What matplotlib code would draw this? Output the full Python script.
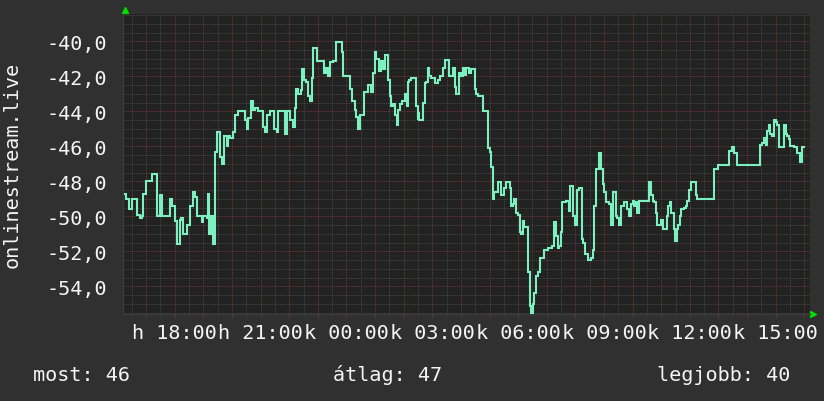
import matplotlib
matplotlib.use('Agg')
import matplotlib.pyplot as plt
import matplotlib.dates as mdates
from matplotlib.ticker import MultipleLocator, FuncFormatter
import pandas as pd

# minutes after Monday 16:00 and the reading at that moment
minutes = [
    16, 18, 25, 30, 39, 41, 47, 51, 54, 60, 70, 73, 79, 82, 88, 93, 103, 110, 115, 121,
    124, 130, 133, 138, 142, 145, 152, 159, 162, 167, 173, 177, 180, 187, 190, 192, 197, 201, 204, 209,
    213, 215, 219, 223, 229, 232, 236, 242, 246, 252, 265, 267, 271, 274, 280, 285, 288, 294, 295, 301,
    305, 309, 313, 320, 326, 328, 334, 337, 344, 351, 356, 361, 368, 372, 375, 379, 384, 387, 391, 396,
    400, 403, 407, 410, 412, 416, 418, 430, 432, 438, 441, 445, 452, 455, 458, 466, 470, 473, 483, 487,
    492, 497, 501, 504, 508, 513, 516, 522, 525, 529, 532, 536, 539, 543, 546, 548, 553, 557, 560, 564,
    567, 571, 574, 578, 581, 585, 588, 592, 597, 602, 606, 609, 612, 616, 623, 626, 629, 630, 633, 637,
    640, 644, 647, 651, 654, 658, 663, 666, 672, 677, 682, 686, 694, 696, 700, 703, 707, 710, 714, 717,
    721, 724, 728, 731, 735, 738, 742, 745, 749, 752, 755, 763, 766, 773, 776, 780, 783, 787, 790, 797,
    801, 804, 809, 811, 815, 818, 822, 825, 829, 832, 836, 839, 843, 846, 850, 853, 857, 860, 864, 867,
    871, 874, 878, 881, 885, 891, 895, 902, 909, 912, 916, 920, 923, 926, 930, 933, 940, 944, 947, 949,
    953, 956, 960, 963, 968, 972, 974, 977, 981, 986, 989, 993, 996, 1000, 1003, 1007, 1009, 1010, 1014, 1017,
    1021, 1024, 1031, 1035, 1038, 1041, 1045, 1048, 1052, 1055, 1059, 1062, 1066, 1069, 1073, 1076, 1080, 1083, 1087, 1090,
    1094, 1111, 1115, 1118, 1122, 1125, 1129, 1132, 1136, 1139, 1143, 1148, 1152, 1155, 1159, 1161, 1166, 1169, 1173, 1175,
    1180, 1182, 1187, 1192, 1195, 1198, 1202, 1209, 1212, 1216, 1247, 1251, 1258, 1259, 1279, 1282, 1286, 1289, 1293, 1296,
    1298, 1345, 1347, 1352, 1355, 1359, 1362, 1366, 1369, 1373, 1376, 1380, 1383, 1387, 1394, 1397, 1401, 1404, 1408, 1411,
    1418, 1425, 1429, 1432, 1436, 1439,
]
values = [
    -48.7, -49.0, -49.6, -49.0, -49.0, -49.9, -50.1, -50.0, -48.7, -48.0, -48.0, -47.6, -47.6, -50.0, -48.8, -50.0, -50.0, -49.0, -49.4, -50.25,
    -51.6, -50.2, -50.1, -51.0, -51.0, -50.5, -49.4, -48.6, -48.9, -50.0, -50.0, -50.3, -50.0, -50.1, -48.7, -51.0, -50.0, -51.6, -46.3, -45.2,
    -45.2, -46.6, -47.0, -45.4, -46.0, -45.4, -45.5, -45.2, -44.2, -44.0, -44.0, -44.5, -45.0, -44.4, -43.4, -43.9, -43.8, -43.8, -44.0, -44.0,
    -44.9, -45.2, -44.2, -44.0, -44.0, -45.0, -45.2, -44.0, -44.0, -45.3, -44.0, -44.5, -44.9, -43.8, -42.7, -43.0, -42.8, -41.6, -42.2, -42.3,
    -43.1, -43.4, -42.1, -40.4, -40.4, -40.4, -41.1, -41.1, -41.8, -41.5, -42.0, -41.2, -41.1, -41.1, -40.05, -40.05, -40.6, -42.0, -42.0, -42.7,
    -43.4, -43.9, -44.3, -45.0, -44.2, -44.2, -42.9, -42.9, -42.5, -42.5, -42.9, -41.8, -40.6, -41.0, -41.0, -41.7, -41.1, -41.6, -40.8, -40.8,
    -42.2, -43.1, -43.7, -43.6, -44.2, -44.8, -43.9, -43.6, -43.4, -43.0, -43.7, -42.3, -42.2, -42.1, -42.1, -43.7, -44.5, -44.1, -44.5, -44.5,
    -43.5, -42.4, -42.3, -41.5, -42.0, -42.1, -42.1, -42.4, -42.2, -42.0, -41.5, -41.07, -41.07, -42.0, -42.0, -41.5, -42.6, -43.0, -43.0, -41.8,
    -42.0, -41.5, -41.9, -41.5, -41.5, -41.8, -41.6, -41.6, -42.7, -43.0, -43.1, -43.1, -44.0, -44.0, -46.1, -46.3, -47.2, -49.0, -48.6, -48.06,
    -48.06, -48.8, -48.8, -48.4, -48.06, -48.06, -48.4, -49.4, -49.3, -49.0, -49.8, -49.9, -50.9, -51.0, -50.25, -50.6, -50.6, -53.2, -55.1, -55.5,
    -55.0, -54.4, -53.4, -53.2, -52.4, -52.4, -51.9, -51.8, -51.8, -51.7, -50.3, -51.1, -51.8, -51.7, -50.9, -49.2, -49.1, -49.1, -49.7, -48.25,
    -48.25, -50.0, -50.5, -48.5, -48.4, -48.4, -51.3, -51.5, -52.15, -52.5, -52.5, -52.4, -51.9, -49.4, -47.3, -47.3, -46.3, -46.4, -47.3, -48.15,
    -48.6, -49.2, -49.3, -50.5, -48.6, -48.6, -50.0, -50.1, -50.5, -49.4, -49.4, -49.2, -49.2, -49.6, -50.0, -49.3, -49.1, -49.4, -49.2, -49.8,
    -49.1, -49.1, -48.06, -48.8, -49.1, -49.2, -49.8, -50.5, -50.5, -50.2, -50.7, -50.7, -50.0, -49.4, -49.2, -49.8, -50.7, -51.4, -50.7, -50.5,
    -50.0, -49.6, -49.5, -49.4, -49.1, -48.5, -48.06, -48.06, -48.8, -49.0, -49.0, -47.3, -47.3, -47.07, -47.07, -46.25, -46.25, -46.06, -46.4, -46.4,
    -47.07, -47.07, -45.9, -45.8, -45.5, -45.9, -45.1, -44.8, -45.3, -45.4, -44.5, -44.6, -44.8, -46.06, -46.06, -44.8, -45.3, -45.4, -45.6, -45.98,
    -46.06, -46.4, -46.4, -46.9, -46.06, -46.06,
]

start_min, end_min = 12, 1452
day_letters = {0: 'h', 1: 'k'}   # hétfő, kedd
series_name = 'onlinestream.live'
most, atlag, legjobb = 46, 47, 40

base = pd.Timestamp('2024-01-01 16:00')
times = base + pd.to_timedelta(minutes, unit='min')

font = 'DejaVu Sans Mono'
fs = 14.5
fg = '#f4f4f4'

fig = plt.figure(figsize=(8.24, 4.02), dpi=100, facecolor='#303030')
ax = fig.add_axes([0.1496, 0.2164, 0.8334, 0.7463], facecolor='#222222')

ax.plot(times, values, color='#7cf0bf', linewidth=1.5, zorder=3,
        drawstyle='steps-post', solid_joinstyle='miter')

ax.set_xlim(base + pd.Timedelta(minutes=start_min), base + pd.Timedelta(minutes=end_min))
ax.set_ylim(-55.58, -38.44)

ax.yaxis.set_major_locator(MultipleLocator(2))
ax.yaxis.set_minor_locator(MultipleLocator(0.5))
ax.yaxis.set_major_formatter(FuncFormatter(lambda v, p: f'{v:.1f}'.replace('.', ',')))

def xlabel(x, pos):
    d = mdates.num2date(x)
    if d.hour % 3 or d.minute:
        return ''
    return f'{day_letters[d.weekday()]} {d:%H:%M}'

ax.xaxis.set_major_locator(mdates.HourLocator())
ax.xaxis.set_minor_locator(mdates.MinuteLocator(byminute=[0, 30]))
ax.xaxis.set_major_formatter(FuncFormatter(xlabel))

dots = (0, (1, 1))
ax.grid(which='minor', color='#464646', linestyle=dots, linewidth=0.75)
ax.grid(which='major', color='#6e3636', linestyle=dots, linewidth=0.75)
ax.set_axisbelow(True)

ax.tick_params(axis='y', which='both', length=0, pad=11.5, labelcolor=fg, labelsize=fs)
ax.tick_params(axis='x', which='major', length=2.5, color='#6e3636', pad=4, labelcolor=fg, labelsize=fs)
ax.tick_params(axis='x', which='minor', length=1.5, color='#464646')
for lab in ax.get_xticklabels() + ax.get_yticklabels():
    lab.set_fontfamily(font)

for side in ('top', 'right'):
    ax.spines[side].set_visible(False)
for side in ('left', 'bottom'):
    ax.spines[side].set_color('#3a3a3a')
    ax.spines[side].set_linewidth(1)

# rrdtool style arrows on the axes ends
ax.plot([0.0025], [1.013], marker='^', color='#00dd00', markersize=4.5,
        transform=ax.transAxes, clip_on=False, linestyle='none')
ax.plot([1.0044], [0.0], marker='>', color='#00dd00', markersize=4.5,
        transform=ax.transAxes, clip_on=False, linestyle='none')

fig.text(0.0146, 0.590, series_name, rotation=90, ha='center', va='center',
         color=fg, fontsize=fs, family=font)

fig.text(33 / 824, 0.067, f'most: {most}', ha='left', va='center', color=fg, fontsize=fs, family=font)
fig.text(333 / 824, 0.067, f'átlag: {atlag}', ha='left', va='center', color=fg, fontsize=fs, family=font)
fig.text(790 / 824, 0.067, f'legjobb: {legjobb}', ha='right', va='center', color=fg, fontsize=fs, family=font)

fig.savefig('out.png', dpi=100, facecolor=fig.get_facecolor())
